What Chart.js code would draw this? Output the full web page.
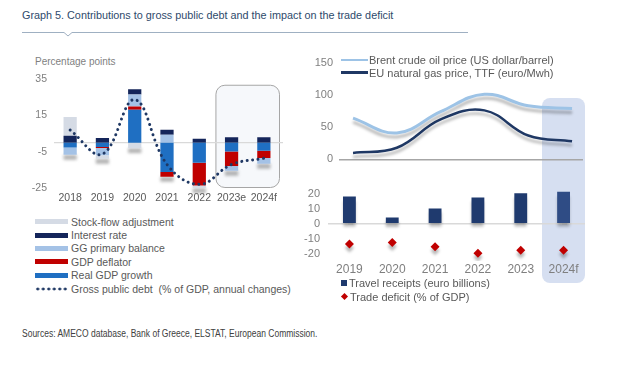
<!DOCTYPE html>
<html>
<head>
<meta charset="utf-8">
<script src="https://cdn.jsdelivr.net/npm/chart.js@4.4.1/dist/chart.umd.min.js"></script>
<style>
  body { margin:0; width:624px; height:368px; background:#fff; position:relative; overflow:hidden;
         font-family:"Liberation Sans", Arial, sans-serif; }
  .abs { position:absolute; }
  canvas { position:absolute; z-index:1; }
  #title { left:22px; top:9px; font-size:11.5px; color:#2E4A6B; white-space:nowrap;
           transform:scaleX(0.94); transform-origin:left top; }
  #unit { left:35px; top:56px; font-size:10px; color:#7F7F7F; }
  .leg { z-index:2; font-size:10.5px; color:#595959; white-space:nowrap; }
  .li { display:flex; align-items:center; }
  #legLeft .li { height:13.4px; }
  #legLeft .sw { width:33px; height:5px; margin-right:3px; }
  #legLeft .dots { height:4px; background:radial-gradient(circle, #1F3864 1.3px, transparent 1.7px) 0 0/5.5px 4px repeat-x; }
  #legTop { font-size:11px; }
  #legTop .li { height:12.7px; }
  #legTop .sw { width:27px; margin-right:1px; }
  #legBot { font-size:11px; }
  #legBot .li { height:13.4px; }
  .sq { width:6px; height:6px; margin-right:2px; background:#1F3A6E; }
  .dia { width:5px; height:5px; margin:0 3px 0 1px; background:#C00000; transform:rotate(45deg); }
  #band { z-index:0; background:#D6DFF1; border-radius:8px; }
  #sources { left:22px; top:328px; font-size:10px; color:#404040; white-space:nowrap;
             transform:scaleX(0.85); transform-origin:left top; }
</style>
</head>
<body>
<div id="title" class="abs">Graph 5. Contributions to gross public debt and the impact on the trade deficit</div>
<svg class="abs" style="left:0;top:0" width="480" height="40">
  <polyline points="22,32.5 64,32.5 68,36 72,32.5 468,32.5" fill="none" stroke="#9FB0C2" stroke-width="1"/>
</svg>
<div id="unit" class="abs">Percentage points</div>

<canvas id="left" width="300" height="146" style="left:0;top:66px"></canvas>

<div id="legLeft" class="abs leg" style="left:35px;top:215px">
  <div class="li"><span class="sw" style="background:#D5DBE5"></span>Stock-flow adjustment</div>
  <div class="li"><span class="sw" style="background:#14255A"></span>Interest rate</div>
  <div class="li"><span class="sw" style="background:#A4C2E6"></span>GG primary balance</div>
  <div class="li"><span class="sw" style="background:#C00000"></span>GDP deflator</div>
  <div class="li"><span class="sw" style="background:#1F6FC2"></span>Real GDP growth</div>
  <div class="li"><span class="sw dots"></span>Gross public debt&nbsp; (% of GDP, annual changes)</div>
</div>

<div id="band" class="abs"></div>
<canvas id="rightTop" width="310" height="122" style="left:300px;top:50px"></canvas>
<canvas id="rightBottom" width="310" height="110" style="left:300px;top:172px"></canvas>

<div id="legTop" class="abs leg" style="left:341px;top:53.5px">
  <div class="li"><span class="sw" style="height:2.5px;background:#9DC3E6"></span>Brent crude oil price (US dollar/barrel)</div>
  <div class="li"><span class="sw" style="height:3px;background:#1F3864"></span>EU natural gas price, TTF (euro/Mwh)</div>
</div>
<div id="legBot" class="abs leg" style="left:341px;top:276.6px">
  <div class="li"><span class="sq"></span>Travel receipts (euro billions)</div>
  <div class="li"><span class="dia"></span>Trade deficit (% of GDP)</div>
</div>

<div id="sources" class="abs">Sources: AMECO database, Bank of Greece, ELSTAT, European Commission.</div>

<script>
// Contribuciones a la deuda pública (puntos porcentuales)
const years = ['2018', '2019', '2020', '2021', '2022', '2023e', '2024f'];
const realGdp    = [-2.7, -2.4, 18.2, -16.1, -11.1, -4.8, -4.4];
const deflator   = [0, -0.5, 1.8, -2.7, -12.5, -8.0, -4.0];
const ggPrimary  = [-4.0, -4.0, 6.6, 4.4, 0, -2.7, -3.2];
const interest   = [3.9, 2.6, 2.9, 2.7, 2.2, 3.0, 3.0];
const stockFlow  = [10.3, -2.0, -3.0, 0, -1.5, 0, 0];
const debtChange = [7.0, -6.3, 23.8, -12.0, -23.0, -12.0, -8.6];
const leftTicks  = [-25, -5, 15, 35];

// Panel derecho
const rightYears     = ['2019', '2020', '2021', '2022', '2023', '2024f'];
const brent          = [64, 41, 74, 101, 83, 79];
const gasTtf         = [10, 18, 62, 76, 37, 28];
const travelReceipts = [18.3, 4.2, 10.3, 17.7, 20.6, 21.6];
const tradeDeficit   = [-13.5, -12.5, -15.5, -19.8, -17.8, -17.8];
const topTicks       = [0, 50, 100, 150];
const bottomTicks    = [-20, -10, 0, 10, 20];

Chart.defaults.font.family = '"Liberation Sans", Arial, sans-serif';
Chart.defaults.animation = false;

function roundRectPath(ctx, x, y, w, h, r) {
  ctx.beginPath();
  ctx.moveTo(x + r, y);
  ctx.arcTo(x + w, y, x + w, y + h, r);
  ctx.arcTo(x + w, y + h, x, y + h, r);
  ctx.arcTo(x, y + h, x, y, r);
  ctx.arcTo(x, y, x + w, y, r);
  ctx.closePath();
}

// Recuadro de las previsiones y línea del cero
const leftHighlight = {
  id: 'leftHighlight',
  beforeDatasetsDraw(chart) {
    const { ctx, scales: { x, y }, chartArea } = chart;
    const half = x.width / years.length / 2;
    const l = x.getPixelForValue(5) - half;
    const r = x.getPixelForValue(6) + half;
    const t = y.getPixelForValue(32);
    const b = y.getPixelForValue(-25);
    ctx.save();
    roundRectPath(ctx, l + 0.5, t + 0.5, r - l - 1, b - t - 1, 9);
    ctx.fillStyle = '#F6F8FB';
    ctx.fill();
    ctx.strokeStyle = '#A6A6A6';
    ctx.lineWidth = 1;
    ctx.stroke();
    const z = y.getPixelForValue(0);
    ctx.beginPath();
    ctx.moveTo(chartArea.left, z);
    ctx.lineTo(chartArea.right + 3, z);
    ctx.strokeStyle = '#D9D9D9';
    ctx.lineWidth = 1.2;
    ctx.stroke();
    ctx.restore();
  }
};

// Sombra gris bajo cada columna apilada
const stackShadow = {
  id: 'stackShadow',
  beforeDatasetsDraw(chart) {
    const ctx = chart.ctx;
    const metas = chart.getSortedVisibleDatasetMetas().filter(m => m.type === 'bar');
    ctx.save();
    ctx.filter = 'blur(1.5px)';
    ctx.fillStyle = 'rgba(110,110,110,0.5)';
    years.forEach((_, i) => {
      let bottom = -Infinity, x = 0, w = 0;
      metas.forEach(m => {
        const el = m.data[i];
        if (!el) return;
        bottom = Math.max(bottom, el.y, el.base);
        x = el.x;
        w = el.width;
      });
      ctx.fillRect(x - w / 2, bottom, w, 5);
    });
    ctx.restore();
  }
};

// Sombra suave para líneas, columnas y rombos
const softShadow = {
  id: 'softShadow',
  beforeDatasetDraw(chart) {
    const c = chart.ctx;
    c.save();
    c.shadowColor = 'rgba(0,0,0,0.28)';
    c.shadowBlur = 3;
    c.shadowOffsetY = 4;
  },
  afterDatasetDraw(chart) {
    chart.ctx.restore();
  }
};

const barSet = (label, data, color) => ({
  type: 'bar', label, data, backgroundColor: color, stack: 'contrib',
  barPercentage: 0.41, categoryPercentage: 1, borderWidth: 0, order: 2
});

new Chart(document.getElementById('left'), {
  data: {
    labels: years,
    datasets: [
      barSet('Real GDP growth', realGdp, '#1F6FC2'),
      barSet('GDP deflator', deflator, '#C00000'),
      barSet('GG primary balance', ggPrimary, '#A4C2E6'),
      barSet('Interest rate', interest, '#14255A'),
      barSet('Stock-flow adjustment', stockFlow, '#D5DBE5'),
      {
        type: 'line', label: 'Gross public debt', data: debtChange, stack: 'debt',
        borderColor: '#1F3864', borderWidth: 3, borderDash: [0.01, 5.5], borderCapStyle: 'round',
        tension: 0.4, pointRadius: 0, fill: false, order: 1
      }
    ]
  },
  options: {
    responsive: false,
    layout: { padding: { left: 0, right: 20, top: 10, bottom: 4 } },
    plugins: { legend: { display: false }, tooltip: { enabled: false } },
    scales: {
      x: {
        stacked: true,
        grid: { display: false, drawTicks: false },
        border: { display: false },
        ticks: { color: '#595959', font: { size: 10.5 }, padding: 4, maxRotation: 0, autoSkip: false },
        afterFit(a) { a.height = 20; }
      },
      y: {
        stacked: true, min: -25, max: 35,
        afterBuildTicks(a) { a.ticks = leftTicks.map(v => ({ value: v })); },
        grid: { display: false, drawTicks: false },
        border: { display: false },
        ticks: { color: '#7F7F7F', font: { size: 10.5 }, padding: 7 },
        afterFit(a) { a.width = 54; }
      }
    }
  },
  plugins: [leftHighlight, stackShadow]
});

// Precios de la energía
const rt = new Chart(document.getElementById('rightTop'), {
  type: 'line',
  data: {
    datasets: [
      {
        label: 'Brent crude oil price (US dollar/barrel)',
        data: brent.map((v, i) => ({ x: i, y: v })),
        borderColor: '#9DC3E6', borderWidth: 3, tension: 0.4, pointRadius: 0
      },
      {
        label: 'EU natural gas price, TTF (euro/Mwh)',
        data: gasTtf.map((v, i) => ({ x: i, y: v })),
        borderColor: '#1F3864', borderWidth: 2.5, tension: 0.4, pointRadius: 0
      }
    ]
  },
  options: {
    responsive: false,
    layout: { padding: { left: 0, right: 27, top: 12.5, bottom: 12 } },
    plugins: { legend: { display: false }, tooltip: { enabled: false } },
    scales: {
      x: { type: 'linear', min: -0.32, max: 5.25, display: false },
      y: {
        min: 0, max: 150,
        afterBuildTicks(a) { a.ticks = topTicks.map(v => ({ value: v })); },
        grid: { drawTicks: false, lineWidth: 1.5, color: c => c.tick.value === 0 ? '#A6A6A6' : 'transparent' },
        border: { display: false },
        ticks: { color: '#7F7F7F', font: { size: 11 }, padding: 6 },
        afterFit(a) { a.width = 39; }
      }
    }
  },
  plugins: [softShadow]
});

// Ingresos por turismo y déficit comercial
const rb = new Chart(document.getElementById('rightBottom'), {
  data: {
    labels: rightYears,
    datasets: [
      {
        type: 'bar', label: 'Travel receipts (euro billions)', data: travelReceipts,
        backgroundColor: rightYears.map((_, i) => i === rightYears.length - 1 ? '#2F4C85' : '#1F3A6E'),
        barPercentage: 0.3, categoryPercentage: 1, borderWidth: 0, order: 2
      },
      {
        type: 'line', label: 'Trade deficit (% of GDP)', data: tradeDeficit, showLine: false,
        pointStyle: 'rectRot', pointRadius: 4.5, pointBackgroundColor: '#C00000',
        pointBorderWidth: 0, order: 1
      }
    ]
  },
  options: {
    responsive: false,
    layout: { padding: { left: 0, right: 25, top: 5, bottom: 0 } },
    plugins: { legend: { display: false }, tooltip: { enabled: false } },
    scales: {
      x: {
        grid: { display: false, drawTicks: false },
        border: { display: false },
        ticks: { color: '#7F7F7F', font: { size: 12 }, padding: 1, maxRotation: 0, autoSkip: false },
        afterFit(a) { a.height = 21; }
      },
      y: {
        min: -25, max: 25,
        afterBuildTicks(a) { a.ticks = bottomTicks.map(v => ({ value: v })); },
        grid: { drawTicks: false, lineWidth: 1.5, color: c => c.tick.value === 0 ? '#D9D9D9' : 'transparent' },
        border: { display: false },
        ticks: { color: '#7F7F7F', font: { size: 11 }, padding: 8 },
        afterFit(a) { a.width = 28; }
      }
    }
  },
  plugins: [softShadow]
});

// Banda de 2024f que cruza los dos gráficos de la derecha
const bx = rb.scales.x;
const cw = bx.width / rightYears.length;
const band = document.getElementById('band');
const bandLeft = 300 + bx.getPixelForValue(rightYears.length - 1) - cw / 2;
const bandTop = 50 + rt.scales.y.getPixelForValue(95);
const bandBottom = 172 + bx.bottom + 1;
band.style.left = bandLeft + 'px';
band.style.width = cw + 'px';
band.style.top = bandTop + 'px';
band.style.height = (bandBottom - bandTop) + 'px';
</script>
</body>
</html>
